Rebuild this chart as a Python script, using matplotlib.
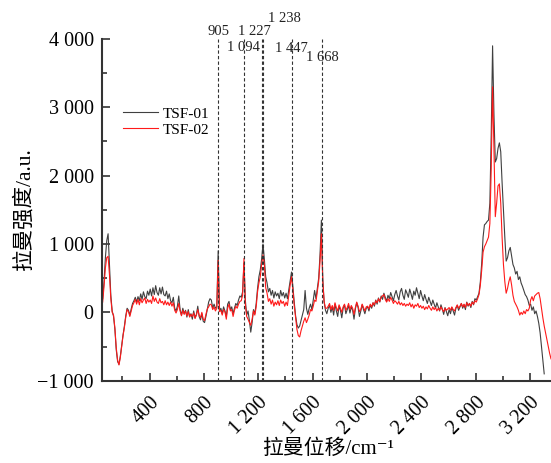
import numpy as np
import matplotlib
matplotlib.use("Agg")
import matplotlib.pyplot as plt
from matplotlib.ticker import MultipleLocator, FuncFormatter

plt.rcParams['font.family'] = ['Liberation Serif', 'Noto Sans CJK SC', 'DejaVu Serif']

# raman shift grid (cm-1)
shift = np.arange(55, 3360, 10)

# TSF-01 intensity, one value per grid point
tsf01 = [
    200, 450, 800, 1050, 1150, 700, 250, 20,
    -60, -250, -550, -720, -760, -640, -480, -330, -200,
    -50, 60, 30, -40, 50, 130, 170, 220, 150,
    230, 170, 270, 190, 300, 230, 200, 310, 250,
    340, 240, 360, 260, 390, 290, 250, 360, 270,
    370, 260, 240, 310, 200, 270, 170, 140, 220,
    60, 20, 90, 240, 40, -40, 60, -20, 30,
    -70, 40, -60, -20, -100, 20, -80, -30, 90,
    -60, -110, -20, -130, -150, -60, 40, 150, 200,
    180, 60, 120, 60, 80,
    900,
    20, 60, -20, 80, 20, -60, 120, 160, 40, 80, -20, 60, 130, 100, 180, 240, 220, 300,
    720,
    180, -40, 20, -120, -290, -150, 40, -20, 130,
    350, 520, 620, 780,
    1000,
    780, 520, 430, 300, 350, 250, 320, 210, 300, 240, 280, 200, 320, 240, 290, 210, 280, 200, 330, 450,
    590,
    380, 150, -50, -180, -230, -200, -120, -40, 40, 320, 60, -30, 60, 120, 40, 180, 320, 200, 350, 500, 850,
    1350,
    500, 150, 30,
    -20, 60, 100, 0, 80, -40, 120, 20, -60, 90, 30, -80, 60, 110, -20, 40, 100, -10, 80, 30,
    -100, 50, 140, 70, -60, 20, 110, 40, -20, 60,
    80, 20, 110, 60, 140, 90, 180, 120, 210, 150, 240, 190, 280, 220, 160, 250, 200, 290, 230, 170,
    260, 320, 240, 180, 300, 350, 250, 190, 330, 280,
    220, 340, 270, 190, 310, 250, 360, 280, 200, 320, 240, 170, 260, 190, 130, 220, 160, 100, 180, 120,
    60, 140, 80, 20, 110, 50, -30, 70, 10, -50,
    40, -20, 70, 20, -40, 60, 100, 30, 80, 130, 60, 110, 40, 150, 90, 130, 70, 160, 110, 200,
    180, 230, 280, 450, 720, 1100, 1280, 1300, 1330, 1350, 1600, 2600,
    3900,
    2900, 2200, 2250, 2400, 2480, 2350, 1900, 1500, 1100, 750, 800, 900, 950,
    820, 700, 650, 560, 600, 480, 520, 430, 380, 320, 260, 230, 180, 100,
    120, 30, 80, -20, 20, -60, -160, -300, -500, -700, -900,
    np.nan, np.nan, np.nan, np.nan, np.nan,
]

# TSF-02 intensity
tsf02 = [
    150, 380, 650, 800, 820, 550, 200, 0,
    -40, -230, -520, -700, -770, -660, -500, -340, -220,
    -70, 40, 10, -60, 20, 100, 140, 190, 120,
    190, 110, 200, 140, 180, 210, 130, 190, 150,
    180, 130, 240, 160, 210, 150, 130, 200, 140,
    160, 110, 170, 110, 150, 100, 150, 90, 140,
    30, -10, 40, 130, 20, -50, 30, -30, 20,
    -50, 10, -70, -30, -60, -10, -90, -40, 40,
    -40, -80, 0, -100, -120, -30, 50, 80, 120,
    110, 40, 80, 20, 60,
    760,
    10, 30, -40, 40, 10, -100, 60, 120, 20, 40, -60, 30, 90, 60, 120, 160, 170, 250,
    790,
    120, -60, -100, -150, -190, -100, 20, -40, 80,
    300, 430, 520, 700,
    840,
    700, 360, 280, 160, 200, 120, 180, 90, 150, 110, 170, 100, 180, 130, 160, 90, 150, 100, 250, 400,
    520,
    330, 100, -80, -250, -340, -360, -270, -200, -130, -80, -150, -100, -40, 40, 20, 90, 180, 160, 300, 450, 750,
    1150,
    450, 160, 60,
    60, 90, 130, 40, 100, 30, 140, 70, 20, 110, 60, 0, 80, 120, 30, 70, 130, 40, 100, 60,
    -30, 70, 150, 90, 10, 40, 120, 70, 20, 80,
    90, 50, 120, 80, 140, 110, 170, 140, 200, 160, 220, 240, 260, 190, 150, 200, 160, 220, 180, 130,
    170, 150, 120, 160, 110, 140, 100, 130, 90, 120,
    100, 140, 80, 120, 60, 110, 90, 130, 70, 100, 60, 90, 40, 80, 50, 100, 60, 30, 80, 40,
    70, 20, 60, 30, 80, 40, 10, 60, 30, 50,
    70, 30, 80, 40, 20, 70, 110, 60, 90, 130, 80, 120, 70, 140, 100, 130, 90, 150, 120, 170,
    150, 200, 260, 400, 620, 880, 960, 1000, 1050, 1100, 1300, 2100,
    3300,
    2400, 1400, 1600, 1850, 1880, 1600, 1100, 700, 450, 280, 350, 450, 520,
    400, 250, 160, 120, 80, 30, -40, 0, -30, 20, -20, 40, 20, 60,
    180, 230, 170, 240, 260, 280, 290, 200, 60, -80, -200, -300, -400, -500, -600, -680,
]

assert len(tsf01) == len(shift) and len(tsf02) == len(shift)

# marked bands and where their labels sit
peaks = [905, 1094, 1227, 1238, 1447, 1668]
peak_labels = ['905', '1 094', '1 227', '1 238', '1 447', '1 668']
label_pos = [(905, 4114), (1094, 3880), (1168, 4114), (1396, 4300), (1447, 3865), (1675, 3726)]


def spaced(v, pos):
    s = f"{abs(int(round(v))):,}".replace(",", " ")
    return ("\u2212" if v < 0 else "") + s


fig = plt.figure(figsize=(5.51, 4.63), dpi=100)
ax = fig.add_axes([0.1851, 0.1778, 0.8149, 0.738])

ax.plot(shift, tsf01, color='#404040', lw=0.8, label='TSF-01')
ax.plot(shift, tsf02, color='#ff1a1a', lw=0.8, label='TSF-02')

for p in peaks:
    ax.axvline(p, color='#333333', lw=0.8, ls=(0, (3, 2)))
for txt, (px, py) in zip(peak_labels, label_pos):
    ax.text(px, py, txt, ha='center', va='center', fontsize=10.5, color='#222222')

ax.set_xlim(50, 3355)
ax.set_ylim(-1000, 4000)
ax.xaxis.set_major_locator(MultipleLocator(400))
ax.xaxis.set_minor_locator(MultipleLocator(200))
ax.yaxis.set_major_locator(MultipleLocator(1000))
ax.yaxis.set_minor_locator(MultipleLocator(500))
ax.xaxis.set_major_formatter(FuncFormatter(spaced))
ax.yaxis.set_major_formatter(FuncFormatter(spaced))
ax.set_xticks([400, 800, 1200, 1600, 2000, 2400, 2800, 3200])

for side in ['top', 'right']:
    ax.spines[side].set_visible(False)
for side in ['left', 'bottom']:
    ax.spines[side].set_linewidth(1.5)
    ax.spines[side].set_color('#333333')

ax.tick_params(which='both', direction='in', color='#333333', width=1.2)
ax.tick_params(which='major', length=6, labelsize=14.5, pad=6)
ax.tick_params(which='minor', length=3.5)
ax.tick_params(axis='x', which='major', pad=9)
for lbl in ax.get_xticklabels():
    lbl.set_rotation(45)
    lbl.set_ha('right')
    lbl.set_rotation_mode('anchor')

ax.set_xlabel('拉曼位移/cm⁻¹', fontsize=15)
ax.set_ylabel('拉曼强度/a.u.', fontsize=15.5)
ax.xaxis.set_label_coords(0.503, -0.172)
ax.yaxis.set_label_coords(-0.15, 0.5)

ax.legend(loc='center left', bbox_to_anchor=(0.047, 0.758), frameon=False,
          fontsize=11, handlelength=2.3, handletextpad=0.3, labelspacing=0.15,
          borderpad=0, borderaxespad=0)

plt.savefig('out.png', dpi=100)
